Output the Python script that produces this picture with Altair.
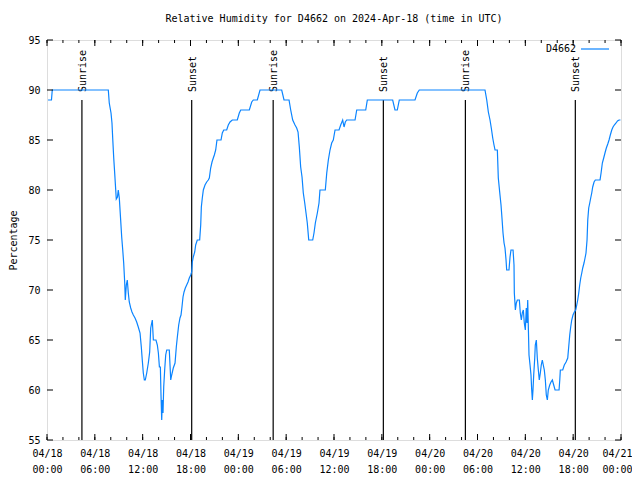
import altair as alt
import pandas as pd

station = "D4662"
chart_title = "Relative Humidity for D4662 on 2024-Apr-18 (time in UTC)"
y_title = "Percentage"

# readings: (hours since 2024-04-18 00:00 UTC, relative humidity %)
seg_apr18 = [
    (0.13, 89), (0.56, 89), (0.66, 90), (7.69, 90), (7.81, 88.7), (8.03, 87.7),
    (8.15, 86.7), (8.24, 85.2), (8.37, 83.2), (8.49, 81.7), (8.62, 80), (8.69, 79.1),
    (8.84, 79.3), (8.94, 80), (9.07, 79.2), (9.24, 77), (9.37, 75.3), (9.50, 74),
    (9.62, 72.7), (9.75, 70.7), (9.82, 69), (9.95, 70.5), (10.07, 71), (10.20, 69.7),
    (10.32, 68.8), (10.50, 68.2), (10.66, 67.8), (10.83, 67.5), (11.04, 67.2),
    (11.25, 66.8), (11.45, 66.3), (11.67, 65.7), (11.83, 64.3), (11.95, 63),
    (12.08, 61.7), (12.21, 61), (12.33, 61), (12.51, 61.7), (12.71, 62.7),
    (12.88, 63.8), (13.01, 66.2), (13.21, 67), (13.34, 65), (13.67, 65),
    (13.84, 64.5), (13.97, 63.7), (14.10, 62.3), (14.22, 62.3), (14.30, 59.5),
    (14.39, 57), (14.46, 59), (14.55, 57.7), (14.64, 60.3), (14.76, 62),
    (14.89, 63.5), (15.02, 64), (15.34, 64), (15.43, 62.5), (15.52, 61),
    (15.64, 61.5), (15.84, 62.2), (16.06, 62.7), (16.22, 64.3), (16.35, 65.3),
    (16.52, 66.5), (16.68, 67.2), (16.81, 67.5), (16.93, 68.3), (17.06, 69.3),
    (17.19, 69.8), (17.35, 70.2), (17.52, 70.5), (17.69, 70.8), (17.85, 71.2),
    (18.03, 71.5), (18.15, 71.8), (18.23, 72.8), (18.35, 73.3), (18.53, 73.8),
    (18.65, 74.5), (18.85, 75), (19.15, 75), (19.28, 76.5), (19.36, 78.3),
    (19.48, 79.2), (19.61, 80), (19.82, 80.5), (20.03, 80.8), (20.23, 81),
    (20.36, 81.2), (20.53, 82.2), (20.70, 82.8), (20.86, 83.2), (20.99, 83.5),
    (21.16, 84), (21.32, 85), (21.83, 85), (21.99, 85.7), (22.17, 86),
    (22.54, 86), (22.74, 86.5), (22.96, 86.8), (23.24, 87), (23.87, 87),
]
seg_apr19 = [
    (24.12, 87.7), (24.30, 88), (25.38, 88), (25.68, 88.8), (25.88, 89),
    (26.38, 89), (26.72, 90), (29.44, 90), (29.73, 89), (30.36, 89), (30.57, 88),
    (30.82, 87), (31.11, 86.5), (31.32, 86.2), (31.49, 85.8), (31.65, 84.3),
    (31.82, 82.3), (31.99, 81.3), (32.15, 79.7), (32.33, 78.7), (32.49, 77.7),
    (32.65, 76.7), (32.83, 75), (33.33, 75), (33.49, 75.7), (33.66, 76.7),
    (33.91, 77.7), (34.12, 78.7), (34.24, 80), (34.91, 80), (35.09, 81.7),
    (35.29, 83), (35.50, 84), (35.71, 84.7), (35.91, 85), (36.13, 86),
    (36.63, 86), (36.84, 86.5), (37.09, 87), (37.26, 86.3), (37.42, 86.8),
    (37.59, 87), (38.64, 87), (38.85, 88), (39.98, 88), (40.18, 89),
    (43.36, 89), (43.65, 88), (43.94, 88), (44.19, 89), (46.16, 89),
    (46.45, 89.7),
]
seg_apr20 = [
    (46.70, 90), (54.94, 90), (55.16, 89), (55.36, 87.8), (55.57, 87),
    (55.73, 86.2), (55.91, 85.2), (56.07, 84.5), (56.20, 84), (56.49, 84),
    (56.61, 81.2), (56.82, 79.5), (56.95, 78.5), (57.07, 77.2), (57.20, 75.7),
    (57.33, 74.7), (57.45, 74.2), (57.58, 73), (57.66, 72), (57.95, 72),
    (58.08, 73.3), (58.20, 74), (58.46, 74), (58.58, 72.5), (58.62, 69.7),
    (58.75, 68), (58.87, 68.7), (59.00, 69), (59.25, 69), (59.37, 67.7),
    (59.50, 67), (59.62, 67.7), (59.75, 68), (59.87, 66.7), (60.00, 66),
    (60.12, 68.2), (60.21, 66.7), (60.30, 69), (60.37, 66.5), (60.46, 63.5),
    (60.59, 62.5), (60.71, 61.5), (60.80, 60), (60.88, 59), (60.96, 60),
    (61.05, 61.5), (61.18, 63.2), (61.25, 64.5), (61.38, 65), (61.50, 63.2),
    (61.63, 62), (61.75, 61), (61.88, 61.7), (62.00, 62.5), (62.13, 63),
    (62.25, 62.5), (62.38, 62), (62.51, 61), (62.63, 59.5), (62.76, 59),
    (62.88, 60), (63.06, 60.5), (63.22, 60.8), (63.39, 61), (63.56, 60.5),
    (63.73, 60), (64.23, 60), (64.32, 61), (64.39, 62), (64.69, 62),
    (64.89, 62.5), (65.11, 62.8), (65.32, 63.2), (65.44, 64.3), (65.57, 65.5),
    (65.69, 66.3), (65.82, 67), (65.98, 67.5), (66.15, 67.8), (66.32, 68),
    (66.45, 68.5), (66.57, 69), (66.70, 69.7), (66.82, 70.5), (66.95, 71.2),
    (67.08, 71.7), (67.20, 72.2), (67.36, 72.7), (67.49, 73.2), (67.61, 73.7),
    (67.74, 75), (67.83, 77), (67.95, 78.2), (68.08, 78.7), (68.20, 79.2),
    (68.33, 79.7), (68.45, 80.3), (68.62, 80.8), (68.78, 81), (69.37, 81),
    (69.50, 81.7), (69.66, 82.7), (69.83, 83.2), (69.99, 83.7), (70.16, 84.2),
    (70.34, 84.6), (70.50, 85), (70.66, 85.5), (70.84, 86), (71.00, 86.3),
    (71.16, 86.5), (71.38, 86.7), (71.56, 86.9), (71.76, 87), (71.93, 87),
]

sun_hours = [4.38, 18.15, 28.37, 42.19, 52.48, 66.27]
sun_labels = ["Sunrise", "Sunset", "Sunrise", "Sunset", "Sunrise", "Sunset"]
sun_line_top = 89
sun_text_y = 89.8

x_major = list(range(0, 73, 6))
x_minor = list(range(0, 73, 2))
y_major = list(range(55, 96, 5))

BLUE = "#0a84ff"
FONT = "DejaVu Sans Mono"
W, H = 574, 400

df = pd.DataFrame(seg_apr18 + seg_apr19 + seg_apr20, columns=["hour", "rh"])
sun_df = pd.DataFrame({"hour": sun_hours, "label": sun_labels,
                       "top": [sun_line_top] * len(sun_hours),
                       "bottom": [55] * len(sun_hours),
                       "ty": [sun_text_y] * len(sun_hours)})
xmaj_df = pd.DataFrame({"hour": x_major})
xmin_df = pd.DataFrame({"hour": x_minor})
ymaj_df = pd.DataFrame({"rh": y_major})
leg_df = pd.DataFrame({"name": [station]})

xscale = alt.Scale(domain=[0, 72], nice=False, zero=False)
yscale = alt.Scale(domain=[55, 95], nice=False, zero=False)

label_expr = ("['04/' + (18 + floor(datum.value / 24)), "
              "(datum.value % 24 < 10 ? '0' : '') + (datum.value % 24) + ':00']")

x_axis = alt.Axis(values=x_major, labelExpr=label_expr, title=None, ticks=False,
                  domain=False, grid=False, labelFont=FONT, labelFontSize=10,
                  labelColor="black", labelPadding=8, labelLineHeight=16,
                  labelFlush=False, labelOverlap=False, labelBaseline="top",
                  labelOffset={"condition": {"test": "datum.value == 72", "value": -4},
                               "value": 0})
y_axis = alt.Axis(values=y_major, title=y_title, ticks=False, domain=False, grid=False,
                  labelFont=FONT, labelFontSize=10, labelColor="black", labelPadding=7,
                  titleFont=FONT, titleFontSize=10, titleFontWeight="normal",
                  titleColor="black", titleX=-34, titleY=200, titleBaseline="middle",
                  titleAlign="center")

X = alt.X("hour:Q", scale=xscale, axis=x_axis)

line = alt.Chart(df).mark_line(color=BLUE, strokeWidth=1.2, clip=True).encode(
    x=X, y=alt.Y("rh:Q", scale=yscale, axis=y_axis))

sun_rules = alt.Chart(sun_df).mark_rule(color="black", strokeWidth=1.2).encode(
    x=X, y=alt.Y("top:Q", scale=yscale, axis=y_axis), y2="bottom:Q")

sun_text = alt.Chart(sun_df).mark_text(angle=270, align="left", baseline="middle",
                                       font=FONT, fontSize=10, color="black", dy=1).encode(
    x=X, y=alt.Y("ty:Q", scale=yscale, axis=y_axis), text="label:N")

def xticks(data, length):
    b = alt.Chart(data).mark_rule(color="black", strokeWidth=1).encode(
        x=X, y=alt.value(H), y2=alt.value(H - length))
    t = alt.Chart(data).mark_rule(color="black", strokeWidth=1).encode(
        x=X, y=alt.value(0), y2=alt.value(length))
    return b + t

yl = alt.Chart(ymaj_df).mark_rule(color="black", strokeWidth=1).encode(
    y=alt.Y("rh:Q", scale=yscale, axis=y_axis), x=alt.value(0), x2=alt.value(6))
yr = alt.Chart(ymaj_df).mark_rule(color="black", strokeWidth=1).encode(
    y=alt.Y("rh:Q", scale=yscale, axis=y_axis), x=alt.value(W), x2=alt.value(W - 6))

leg_text = alt.Chart(leg_df).mark_text(align="right", baseline="middle", font=FONT,
                                       fontSize=10, color="black").encode(
    x=alt.value(529), y=alt.value(9), text="name:N")
leg_line = alt.Chart(leg_df).mark_rule(color=BLUE, strokeWidth=1.2).encode(
    x=alt.value(534), x2=alt.value(562), y=alt.value(9))

chart = alt.layer(
    sun_rules, sun_text, line, xticks(xmin_df, 3), xticks(xmaj_df, 6), yl, yr,
    leg_text, leg_line
).properties(
    width=W, height=H,
    title=alt.TitleParams(chart_title, font=FONT, fontSize=10, fontWeight="normal",
                          anchor="middle", offset=11, color="black"),
    padding={"left": 39, "top": 32, "right": 11, "bottom": 35},
    autosize=alt.AutoSizeParams(type="none"),
).configure_view(stroke="black", strokeWidth=1).configure(background="white")

chart.save("out.html", embed_options={"renderer": "svg", "actions": False})
